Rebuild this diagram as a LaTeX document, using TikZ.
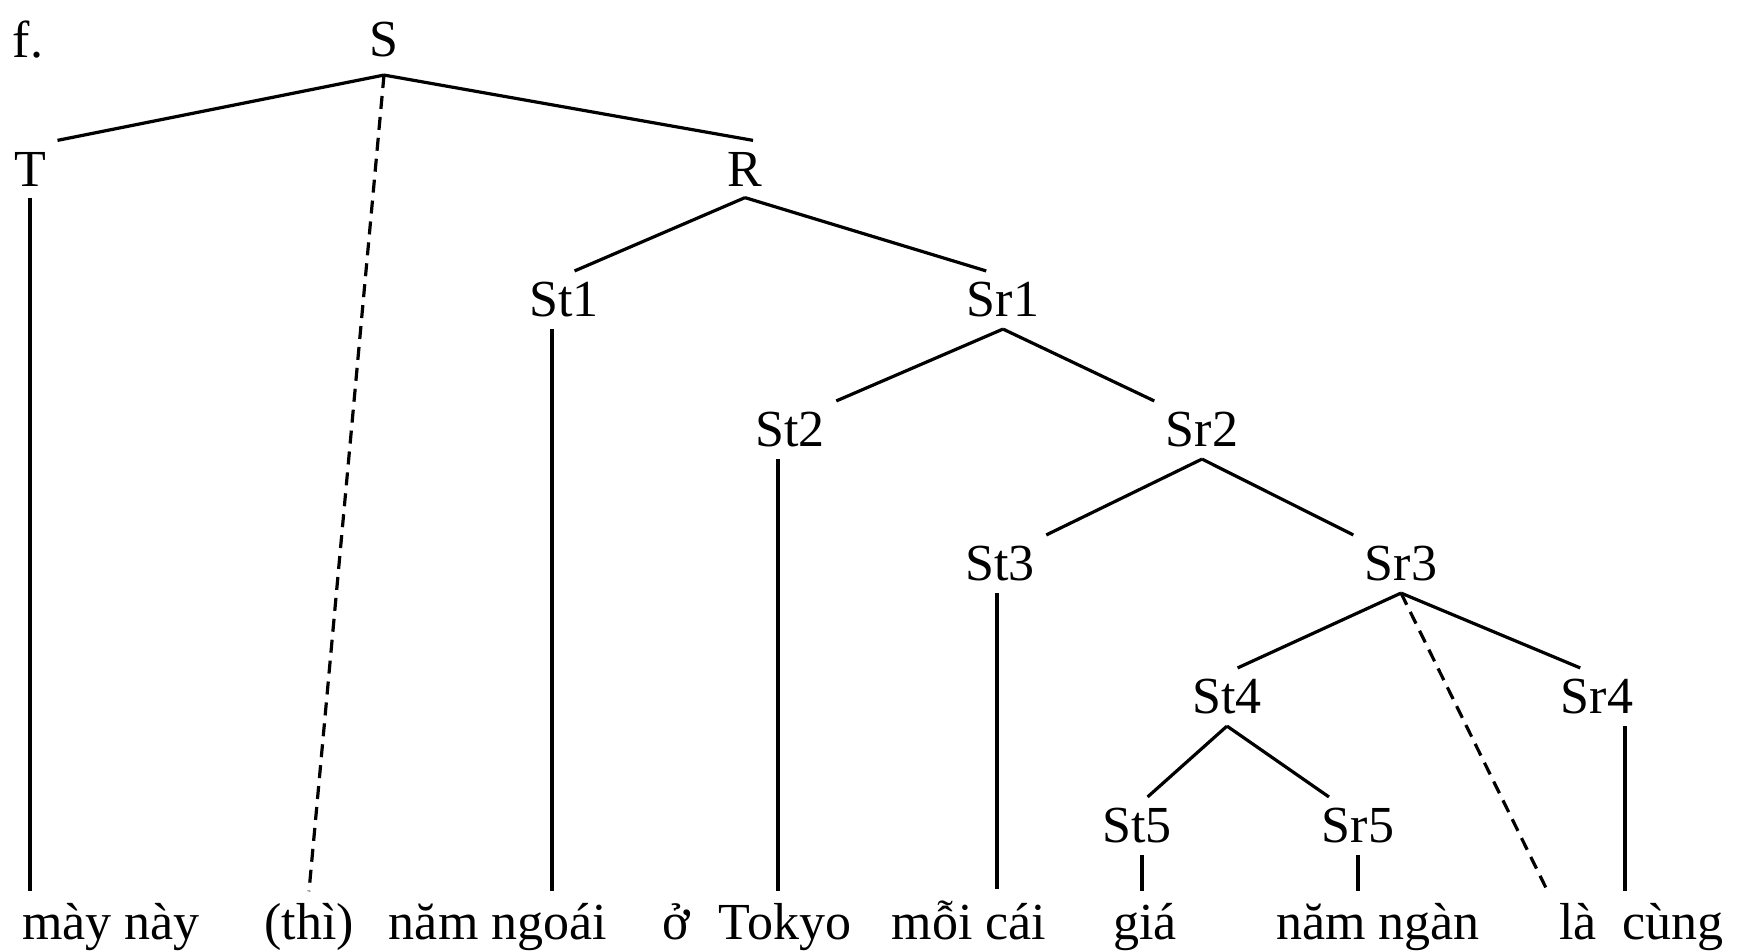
\documentclass[tikz,border=0pt]{standalone}
\usepackage{fontspec}
\setmainfont{Liberation Serif}
\usetikzlibrary{calc}

\begin{document}
\begin{tikzpicture}[x=1pt,y=-1pt,line width=3.2pt,every node/.style={font=\fontsize{52}{60}\selectfont,inner sep=10pt}]
\tikzstyle{word}=[anchor=base]
\tikzstyle{gap}=[dash pattern=on 13pt off 8pt]
\useasboundingbox (0,0) rectangle (1743,951);

\node (f) at (28,40) {f.};
\node (S) at (384,40) {S};
\node (T) at (30,169) {T};
\node (R) at (745,169) {R};
\node (St1) at (564,300) {St1};
\node (Sr1) at (1003,300) {Sr1};
\node (St2) at (790,430) {St2};
\node (Sr2) at (1202,430) {Sr2};
\node (St3) at (1000,564) {St3};
\node (Sr3) at (1401,564) {Sr3};
\node (St4) at (1227,697) {St4};
\node (Sr4) at (1597,697) {Sr4};
\node (St5) at (1137,826) {St5};
\node (Sr5) at (1358,826) {Sr5};

% words
\node[word] (w1) at (111,939) {mày này};
\node[word] (w2) at (309,939) {(thì)};
\node[word] (w3) at (498,939) {năm ngoái};
\node[word] (w4) at (676,939) {ở};
\node[word] (w5) at (785,939) {Tokyo};
\node[word] (w6) at (969,939) {mỗi cái};
\node[word] (w7) at (1145,939) {giá};
\node[word] (w8) at (1378,939) {năm ngàn};
\node[word] (w9) at (1578,939) {là};
\node[word] (w10) at (1673,939) {cùng};

\draw ([yshift=-6pt]S.south) -- (T.north east);
\draw ([yshift=-6pt]S.south) -- ([xshift=8pt]R.north);
\draw[gap] ([yshift=-6pt]S.south) -- (w2.north);
\draw (R.south) -- (St1.70);
\draw (R.south) -- (Sr1.120);
\draw (Sr1.south) -- (St2.north east);
\draw (Sr1.south) -- (Sr2.north west);
\draw (Sr2.south) -- (St3.north east);
\draw (Sr2.south) -- (Sr3.north west);
\draw (Sr3.south) -- (St4.70);
\draw (Sr3.south) -- (Sr4.120);
\draw[gap] (Sr3.south) -- (w9.north west);
\draw (St4.south) -- (St5.70);
\draw (St4.south) -- (Sr5.135);

% vertical lines down to the words
\draw (T.south) -- (T.south |- w1.north);
\draw ($(St1.south)+(-12,0)$) -- ($(St1.south |- w3.north)+(-12,0)$);
\draw ($(St2.south)+(-12,0)$) -- ($(St2.south |- w5.north)+(-12,0)$);
\draw ($(St3.south)+(-3,0)$) -- ($(St3.south |- w6.north)+(-3,0)$);
\draw ($(St5.south)+(5,0)$) -- ($(St5.south |- w7.north)+(5,0)$);
\draw (Sr5.south) -- (Sr5.south |- w8.north);
\draw ($(Sr4.south)+(28,0)$) -- ($(Sr4.south |- w10.north)+(28,0)$);
\end{tikzpicture}
\end{document}
